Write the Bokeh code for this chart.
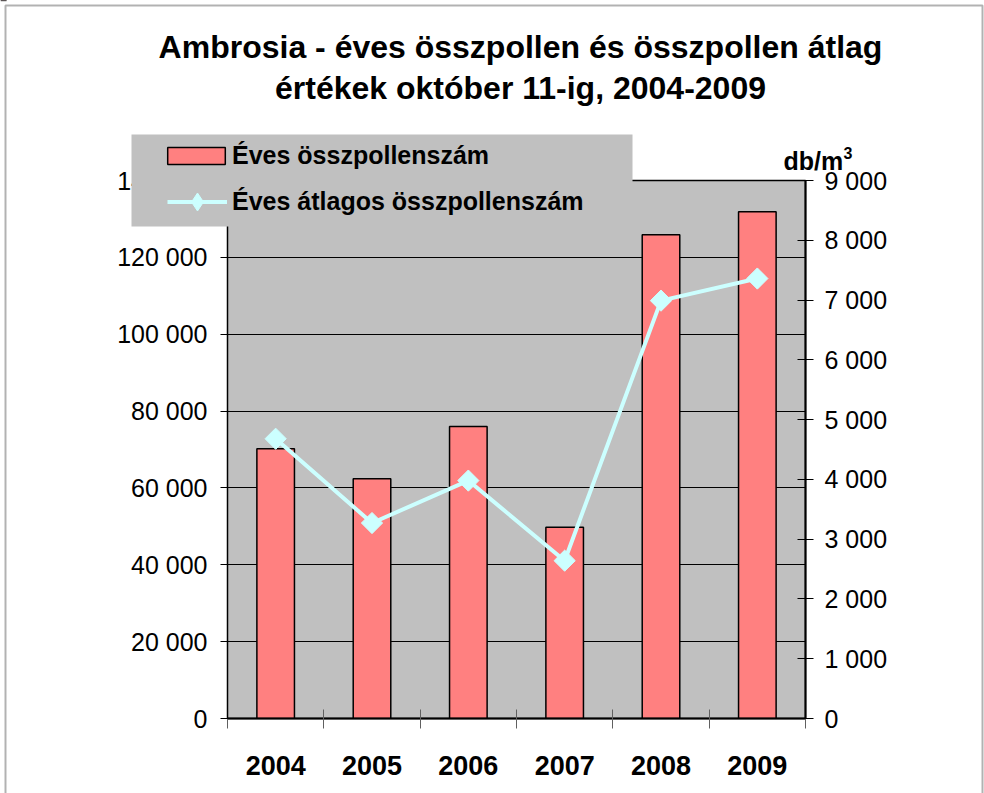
from bokeh.plotting import figure
from bokeh.models import (Range1d, LinearAxis, SingleIntervalTicker,
                          FixedTicker, Grid, Legend, LegendItem, BoxAnnotation, Label,
                          CustomJSTickFormatter, ColumnDataSource)
from bokeh.embed import file_html
from bokeh.resources import INLINE
import math

# ---- data ----
years = ["2004", "2005", "2006", "2007", "2008", "2009"]
total_pollen = [70200, 62400, 76000, 49800, 125900, 131900]
avg_pollen = [4680, 3270, 3980, 2640, 6990, 7360]
left_max, left_step = 140000, 20000
right_max, right_step = 9000, 1000
title_lines = ["Ambrosia - éves összpollen és összpollen átlag", "értékek október 11-ig, 2004-2009"]
series_names = ["Éves összpollenszám", "Éves átlagos összpollenszám"]
unit_text, unit_sup = "db/m", "3"

FONT = "Liberation Sans"
W, H = 984, 793
FL, FT, FW, FH = 227, 180, 578, 538
BAR_FILL, LINE_COL = "#FF8080", "#CCFFFF"

n = len(years)
slot_center = [i + 0.5 for i in range(n)]
src = ColumnDataSource(dict(x=slot_center, year=years, total=total_pollen, avg=avg_pollen))

# ================= main chart =================
p = figure(x_range=Range1d(0, n), y_range=Range1d(0, left_max),
           frame_width=FW, frame_height=FH,
           min_border_left=FL, min_border_right=W - FL - FW, min_border_top=FT,
           min_border_bottom=H - FT - FH,
           x_axis_location=None, y_axis_location=None,
           output_backend="svg", toolbar_location=None)
p.grid.visible = False
p.background_fill_color = "#C0C0C0"
p.border_fill_color = "white"
p.outline_line_color = "black"
p.outline_line_width = 1.5

p.extra_y_ranges = {"avg": Range1d(0, right_max)}

fmt = CustomJSTickFormatter(code="return tick.toFixed(0).replace(/\\B(?=(\\d{3})+(?!\\d))/g, ' ');")

la = LinearAxis(ticker=SingleIntervalTicker(interval=left_step), formatter=fmt)
la.axis_line_color = "black"
la.major_tick_in = 7
la.major_tick_out = 7
la.minor_tick_line_color = None
la.major_label_standoff = 13
la.major_label_text_font = FONT
la.major_label_text_font_size = "25px"
la.major_label_text_color = "black"
p.add_layout(la, "left")

ra = LinearAxis(y_range_name="avg", ticker=SingleIntervalTicker(interval=right_step), formatter=fmt)
ra.axis_line_color = "black"
ra.axis_line_width = 2
ra.major_tick_in = 8
ra.major_tick_out = 8
ra.minor_tick_line_color = None
ra.major_label_standoff = 11
ra.major_label_text_font = FONT
ra.major_label_text_font_size = "25px"
ra.major_label_text_color = "black"
p.add_layout(ra, "right")

# category boundary ticks (no labels)
ta = LinearAxis(ticker=FixedTicker(ticks=list(range(n + 1))))
ta.axis_line_color = "black"
ta.axis_line_width = 2
ta.major_tick_in = 9
ta.major_tick_out = 10
ta.major_tick_line_color = "#606060"
ta.minor_tick_line_color = None
ta.major_label_text_font_size = "0px"
ta.major_label_text_color = None
ta.major_label_standoff = 0
p.add_layout(ta, "below")

# category labels
ca = LinearAxis(ticker=FixedTicker(ticks=slot_center))
ca.major_label_overrides = {c: y for c, y in zip(slot_center, years)}
ca.axis_line_color = None
ca.major_tick_line_color = None
ca.minor_tick_line_color = None
ca.major_tick_in = 0
ca.major_tick_out = 0
ca.major_label_standoff = 27
ca.major_label_text_font = FONT
ca.major_label_text_font_style = "bold"
ca.major_label_text_font_size = "27px"
ca.major_label_text_color = "black"
p.add_layout(ca, "below")

p.add_layout(Grid(dimension=1, ticker=la.ticker, grid_line_color="black", grid_line_width=1))

p.vbar(x="x", top="total", width=0.39, source=src,
       fill_color=BAR_FILL, line_color="black", line_width=1.5)
p.line(x="x", y="avg", source=src, y_range_name="avg", line_color=LINE_COL, line_width=4)
p.scatter(x="x", y="avg", source=src, y_range_name="avg", marker="square", angle=math.pi / 4,
          size=15, fill_color=LINE_COL, line_color=LINE_COL)

# ================= overlay (titles, legend, frame) =================
q = figure(width=W, height=H, x_range=Range1d(0, W), y_range=Range1d(H, 0),
           min_border=0, x_axis_location=None, y_axis_location=None,
           output_backend="svg", toolbar_location=None)
q.grid.visible = False
q.background_fill_color = None
q.border_fill_color = None
q.outline_line_color = None
q.styles = {"position": "absolute", "left": "0px", "top": "0px"}
# legend-only copies of the series, mapped far outside the visible canvas
q.extra_y_ranges = {"off": Range1d(-2e9, -1e9)}

# page frame
q.add_layout(BoxAnnotation(left=5, right=982, top=5, bottom=H + 20,
                           fill_alpha=0, line_color="black", line_width=2))
# legend background
q.add_layout(BoxAnnotation(left=131, right=632, top=134, bottom=226,
                           fill_color="#C0C0C0", fill_alpha=1, line_color=None))

leg_bar = q.vbar(x="x", top="total", width=0.39, source=src, y_range_name="off",
                 fill_color=BAR_FILL, line_color="black", line_width=1.5)
leg_line = q.line(x="x", y="avg", source=src, y_range_name="off", line_color=LINE_COL, line_width=4)
leg_mark = q.scatter(x="x", y="avg", source=src, y_range_name="off", marker="diamond", size=15,
                     fill_color=LINE_COL, line_color=LINE_COL)

def mk_legend(item, loc, gw, gh, standoff):
    return Legend(items=[item], location=loc, glyph_width=gw, glyph_height=gh, label_height=gh,
                  label_standoff=standoff, padding=0, margin=0, spacing=0,
                  background_fill_alpha=0, border_line_color=None,
                  label_text_font=FONT, label_text_font_style="bold", label_text_font_size="25px",
                  label_text_color="black")

q.add_layout(mk_legend(LegendItem(label=series_names[0], renderers=[leg_bar]), (160, H - 169.5), 72, 21, 0))
q.add_layout(mk_legend(LegendItem(label=series_names[1], renderers=[leg_line, leg_mark]),
                       (167, H - 224), 60, 45, 5))

for txt, base in zip(title_lines, [46, 87]):
    q.add_layout(Label(x=520, y=base, text=txt, text_align="center", text_baseline="alphabetic",
                       text_font=FONT, text_font_style="bold", text_font_size="32px", text_color="black"))

q.add_layout(Label(x=783, y=160, text=unit_text, text_align="left", text_baseline="alphabetic",
                   text_font=FONT, text_font_style="bold", text_font_size="25px", text_color="black"))
q.add_layout(Label(x=843, y=152, text=unit_sup, text_align="left", text_baseline="alphabetic",
                   text_font=FONT, text_font_style="bold", text_font_size="16px", text_color="black"))

open("out.html", "w").write(file_html([p, q], INLINE))
